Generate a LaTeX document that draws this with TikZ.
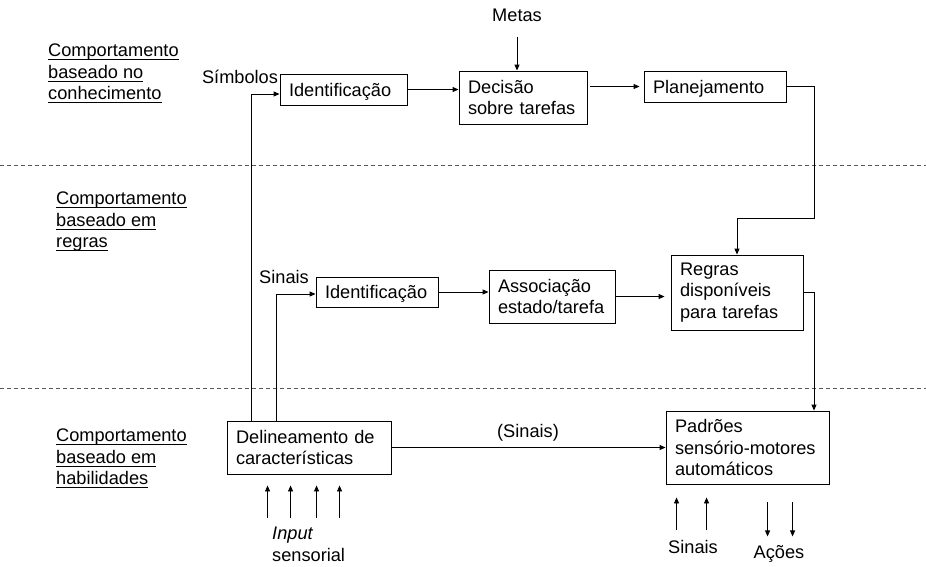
\documentclass[tikz,border=0pt]{standalone}
\usepackage{fontspec}
\setmainfont{Liberation Sans}
\usetikzlibrary{arrows.meta}

\newcommand{\ulabel}[1]{\setbox0\hbox{#1}\rlap{\rule[-3pt]{\wd0}{0.9pt}}\box0}

\begin{document}
\begin{tikzpicture}[
    x=1pt, y=-1pt,
    font=\fontsize{18.2}{21.5}\selectfont,
    box/.style={draw, line width=0.9pt, align=left, inner xsep=9pt, inner ysep=0pt},
    single/.style={text height=13pt, text depth=0pt},
    tag/.style={inner sep=0pt, anchor=base},
    layer/.style={inner sep=0pt, anchor=north west, align=left},
    flow/.style={line width=0.9pt, -{Triangle[length=6pt,width=5pt]}},
    divider/.style={line width=0.8pt, gray!70!black, dash pattern=on 4pt off 3pt},
  ]
    \useasboundingbox (0,0) rectangle (926,566);

    \draw[divider] (0,165) -- (926,165);
    \draw[divider] (0,388) -- (926,388);

    \node[layer] (knowledge) at (48,44) {\ulabel{Comportamento}\\\ulabel{baseado no}\\\ulabel{conhecimento}};
    \node[layer] (rules) at (56,192) {\ulabel{Comportamento}\\\ulabel{baseado em}\\\ulabel{regras}};
    \node[layer] (skills) at (56,429) {\ulabel{Comportamento}\\\ulabel{baseado em}\\\ulabel{habilidades}};

    \node[box, single, text width=109pt, minimum height=31pt] (ident1) at (343.5,89.5) {Identificação};
    \node[box, text width=110pt, minimum height=53pt] (decisao) at (523,97.5) {Decisão\\sobre tarefas};
    \node[box, single, text width=124pt, minimum height=31pt] (plan) at (715,86.5) {Planejamento};
    \node[box, single, text width=104pt, minimum height=30pt] (ident2) at (377,292) {Identificação};
    \node[box, text width=108pt, minimum height=53pt] (assoc) at (552,296.5) {Associação\\estado/tarefa};
    \node[box, text width=114pt, minimum height=75pt] (regras) at (737,292.5) {Regras\\disponíveis\\para tarefas};
    \node[box, text width=146pt, minimum height=53pt] (delin) at (309,447.5) {Delineamento de\\características};
    \node[box, text width=145pt, minimum height=73pt] (padroes) at (747.5,447.5) {Padrões\\sensório-motores\\automáticos};

    \node[tag] (metas) at (517,21) {Metas};
    \node[tag] (simbolos) at (240,83) {Símbolos};
    \node[tag] (sinais) at (284,283) {Sinais};
    \node[tag] (sinaisdir) at (528,437) {(Sinais)};
    \node[tag] (sinaisin) at (693,553) {Sinais};
    \node[tag] (acoes) at (779,558) {Ações};
    \node[layer] (input) at (272,527) {\textit{Input}\\sensorial};

    \coordinate (bend) at (814,218);

    \draw[flow, shorten <=16pt] (metas.south) -- (metas.south |- decisao.north);
    \draw[flow] (ident1) -- (decisao.west |- ident1);
    \draw[flow, shorten <=3pt, shorten >=4pt] (decisao.east |- plan) -- (plan.west);
    \draw[flow] (plan.east) -| (bend) -| (regras.north);
    \draw[flow] (regras.east) -| (padroes.north -| bend);
    \draw[flow] ([xshift=25pt]delin.north west) |- ([yshift=-4.5pt]ident1.west);
    \draw[flow] ([xshift=50pt]delin.north west) |- ([yshift=-2pt]ident2.west);
    \draw[flow] (ident2) -- (assoc.west |- ident2);
    \draw[flow, shorten >=6pt] (assoc) -- (regras.west |- assoc);
    \draw[flow] (delin) -- (padroes);

    \foreach \dx in {41,64,90,113}
      \draw[flow] ([xshift=\dx pt, yshift=-44pt]delin.south west) -- ([xshift=\dx pt, yshift=-11pt]delin.south west);
    \foreach \dx in {11,41}
      \draw[flow] ([xshift=\dx pt, yshift=-46pt]padroes.south west) -- ([xshift=\dx pt, yshift=-13pt]padroes.south west);
    \foreach \dx in {102,127}
      \draw[flow] ([xshift=\dx pt, yshift=-18pt]padroes.south west) -- ([xshift=\dx pt, yshift=-52pt]padroes.south west);
\end{tikzpicture}
\end{document}
